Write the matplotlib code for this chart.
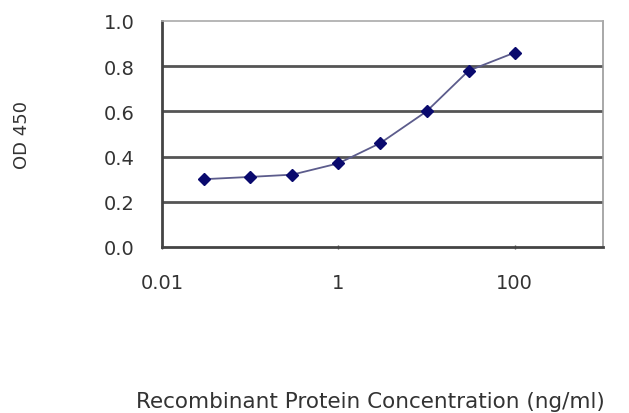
import matplotlib
matplotlib.use("Agg")
import matplotlib.pyplot as plt
import numpy as np

conc = [0.03, 0.1, 0.3, 1, 3, 10, 30, 100]
od = [0.30, 0.31, 0.32, 0.37, 0.46, 0.60, 0.78, 0.86]
yticks = [0.0, 0.2, 0.4, 0.6, 0.8, 1.0]
ytick_labels = ["0.0", "0.2", "0.4", "0.6", "0.8", "1.0"]
xticks = [0.01, 1, 100]
xtick_labels = ["0.01", "1", "100"]

plt.rcParams['font.family'] = ['DejaVu Sans']

fig = plt.figure(figsize=(6.29, 4.14), dpi=100)
ax = fig.add_axes([0.2576, 0.401, 0.701, 0.546])

ax.set_xscale('log')
ax.set_xlim(0.01, 1000)
ax.set_ylim(0, 1.0)

for y in yticks[1:-1]:
    ax.axhline(y, color='#555555', lw=2.0, zorder=1)

ax.plot(conc, od, color='#5c5c8c', lw=1.3, zorder=2)
ax.plot(conc, od, linestyle='none', marker='D', markersize=6,
        color='#0a0a6e', zorder=3)

ax.set_yticks(yticks)
ax.set_yticklabels(ytick_labels, fontsize=14, color='#333333')
ax.set_xticks(xticks)
ax.set_xticklabels(xtick_labels, fontsize=14, color='#333333')
ax.xaxis.set_minor_locator(matplotlib.ticker.NullLocator())
ax.tick_params(axis='y', length=0, pad=20)
ax.tick_params(axis='x', length=3, width=1, color='#555555', pad=17, direction='inout')

for side in ['left', 'bottom']:
    ax.spines[side].set_color('#444444')
    ax.spines[side].set_linewidth(2.0)
ax.spines['top'].set_color('#aaaaaa')
ax.spines['top'].set_linewidth(1.2)
ax.spines['right'].set_color('#999999')
ax.spines['right'].set_linewidth(1.2)

fig.text(22 / 629, 1 - 135 / 414, "OD 450", rotation=90, ha='center', va='center',
         fontsize=13, color='#333333')
fig.text(370 / 629, 1 - 402 / 414, "Recombinant Protein Concentration (ng/ml)",
         ha='center', va='center', fontsize=15.5, color='#333333')

fig.savefig("out.png", dpi=100)
